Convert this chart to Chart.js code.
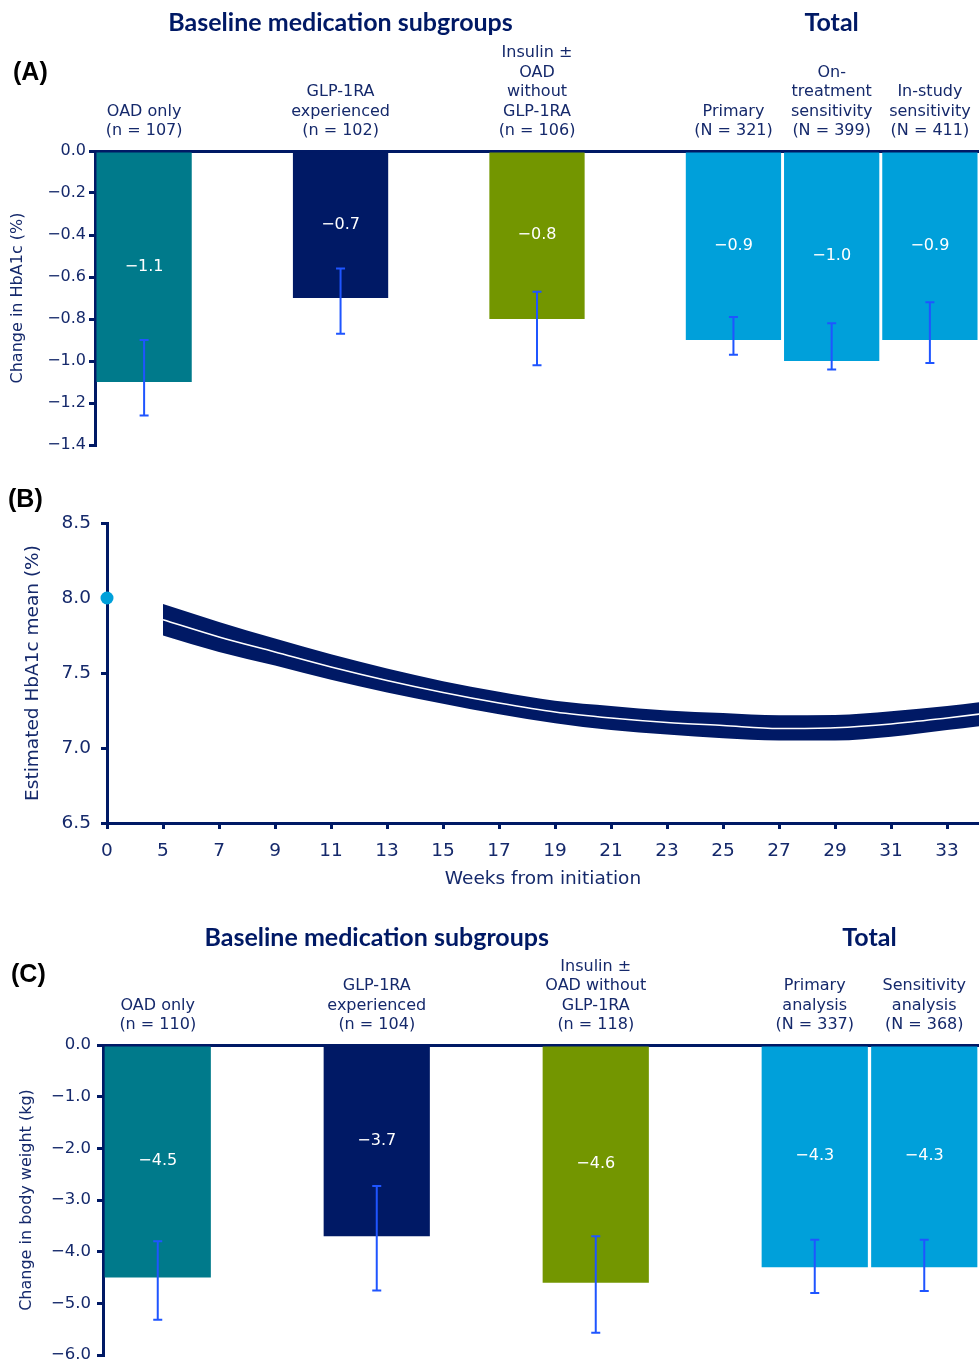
<!DOCTYPE html>
<html>
<head>
<meta charset="utf-8">
<script src="https://cdn.jsdelivr.net/npm/chart.js@4.4.0/dist/chart.umd.min.js"></script>
<style>
  body { margin: 0; background: #fff; width: 979px; height: 1363px; overflow: hidden; position: relative; }
  .panel { position: absolute; left: 0; width: 979px; }
</style>
</head>
<body>
<div class="panel" style="top:0;height:462px"><canvas id="chartA"></canvas></div>
<div class="panel" style="top:478px;height:422px"><canvas id="chartB"></canvas></div>
<div class="panel" style="top:905px;height:470px"><canvas id="chartC"></canvas></div>
<script>
// (A) change in HbA1c (%) by baseline medication subgroup and in the total population
const hba1cSubgroupLabels = [
  ['OAD only', '(n = 107)'],
  ['GLP-1RA', 'experienced', '(n = 102)'],
  ['Insulin ±', 'OAD', 'without', 'GLP-1RA', '(n = 106)'],
];
const hba1cTotalLabels = [
  ['Primary', '(N = 321)'],
  ['On-', 'treatment', 'sensitivity', '(N = 399)'],
  ['In-study', 'sensitivity', '(N = 411)'],
];
const hba1cChange = [-1.1, -0.7, -0.8, -0.9, -1.0, -0.9];
const hba1cLower = [-1.26, -0.87, -1.02, -0.97, -1.04, -1.01];
const hba1cUpper = [-0.90, -0.56, -0.67, -0.79, -0.82, -0.72];
const hba1cTicks = [0, -0.2, -0.4, -0.6, -0.8, -1.0, -1.2, -1.4];

// (B) estimated HbA1c mean (%) over weeks from initiation
const baselineWeek = 0;
const baselineHbA1c = 8.0;
const curveWeeks = [5, 7, 9, 11, 13, 15, 17, 19, 21, 23, 25, 27, 29, 31, 33, 35];
const curveMean  = [7.855, 7.74, 7.64, 7.54, 7.45, 7.37, 7.30, 7.24, 7.20, 7.17, 7.15, 7.13, 7.135, 7.16, 7.20, 7.245];
const curveUpper = [7.96, 7.84, 7.73, 7.625, 7.53, 7.445, 7.375, 7.315, 7.28, 7.25, 7.233, 7.218, 7.22, 7.245, 7.28, 7.325];
const curveLower = [7.75, 7.64, 7.55, 7.455, 7.37, 7.295, 7.225, 7.165, 7.12, 7.09, 7.065, 7.05, 7.05, 7.075, 7.12, 7.165];
const weekTicks = [0, 5, 7, 9, 11, 13, 15, 17, 19, 21, 23, 25, 27, 29, 31, 33];
const hba1cMeanTicks = [6.5, 7.0, 7.5, 8.0, 8.5];

// (C) change in body weight (kg)
const weightSubgroupLabels = [
  ['OAD only', '(n = 110)'],
  ['GLP-1RA', 'experienced', '(n = 104)'],
  ['Insulin ±', 'OAD without', 'GLP-1RA', '(n = 118)'],
];
const weightTotalLabels = [
  ['Primary', 'analysis', '(N = 337)'],
  ['Sensitivity', 'analysis', '(N = 368)'],
];
const weightChange = [-4.5, -3.7, -4.6, -4.3, -4.3];
const weightLower = [-5.32, -4.75, -5.57, -4.80, -4.76];
const weightUpper = [-3.80, -2.73, -3.70, -3.77, -3.77];
const weightTicks = [0, -1, -2, -3, -4, -5, -6];

const FONT = '"DejaVu Sans", Verdana, sans-serif';
const TITLE_FONT = 'Lato, "Open Sans", sans-serif';
const NAVY = '#001965';
const TEXT = '#15296b';
const ERR_BLUE = '#1f55ff';
const SUBGROUP_COLORS = ['#007a8b', '#001965', '#739600'];
const TOTAL_COLOR = '#00a0da';

function minusFmt(v) {
  return (v < 0 ? '\u2212' : '') + Math.abs(v).toFixed(1);
}

// subgroups sit one empty slot apart, a further empty slot before the adjacent total bars
function buildSlots(subLabels, totalLabels, values, lower, upper) {
  const slots = [];
  subLabels.forEach((label, i) => {
    if (i > 0) slots.push(null);
    slots.push({ label, value: values[i], lo: lower[i], hi: upper[i], color: SUBGROUP_COLORS[i], group: 0 });
  });
  slots.push(null);
  totalLabels.forEach((label, j) => {
    const i = subLabels.length + j;
    slots.push({ label, value: values[i], lo: lower[i], hi: upper[i], color: TOTAL_COLOR, group: 1 });
  });
  return slots;
}

function panelLetter(letter, x, y) {
  return {
    id: 'panelLetter',
    afterDraw(chart) {
      const ctx = chart.ctx;
      ctx.save();
      ctx.fillStyle = '#000';
      ctx.font = 'bold 25px "Liberation Sans", Arial, sans-serif';
      ctx.textAlign = 'left';
      ctx.textBaseline = 'middle';
      ctx.fillText(letter, x, y);
      ctx.restore();
    },
  };
}

function barAnnotations(slots, groupTitles, titleY) {
  return {
    id: 'barAnnotations',
    afterDatasetsDraw(chart) {
      const { ctx, scales: { x, y } } = chart;
      ctx.save();
      slots.forEach((s, i) => {
        if (!s) return;
        const px = x.getPixelForValue(i);
        const yLo = y.getPixelForValue(s.lo);
        const yHi = y.getPixelForValue(s.hi);
        ctx.strokeStyle = ERR_BLUE;
        ctx.lineWidth = 2;
        ctx.beginPath();
        ctx.moveTo(px, yHi); ctx.lineTo(px, yLo);
        ctx.moveTo(px - 4.5, yHi); ctx.lineTo(px + 4.5, yHi);
        ctx.moveTo(px - 4.5, yLo); ctx.lineTo(px + 4.5, yLo);
        ctx.stroke();

        ctx.fillStyle = '#fff';
        ctx.font = `16px ${FONT}`;
        ctx.textAlign = 'center';
        ctx.textBaseline = 'middle';
        ctx.fillText(minusFmt(s.value), px, y.getPixelForValue(s.value / 2));
      });

      ctx.fillStyle = NAVY;
      ctx.font = `bold 25px ${TITLE_FONT}`;
      ctx.textAlign = 'center';
      ctx.textBaseline = 'middle';
      groupTitles.forEach((title, g) => {
        const idx = slots.map((s, i) => (s && s.group === g ? i : -1)).filter((i) => i >= 0);
        const cx = (x.getPixelForValue(idx[0]) + x.getPixelForValue(idx[idx.length - 1])) / 2;
        ctx.fillText(title, cx, titleY);
      });
      ctx.restore();
    },
  };
}

function barChart(canvasId, cfg) {
  const slots = buildSlots(cfg.subLabels, cfg.totalLabels, cfg.values, cfg.lower, cfg.upper);
  return new Chart(document.getElementById(canvasId), {
    type: 'bar',
    data: {
      labels: slots.map((s) => (s ? s.label : '')),
      datasets: [{
        data: slots.map((s) => (s ? s.value : null)),
        backgroundColor: slots.map((s) => (s ? s.color : 'transparent')),
        borderWidth: 0,
        barPercentage: 0.97,
        categoryPercentage: 1,
      }],
    },
    options: {
      responsive: true,
      maintainAspectRatio: false,
      animation: false,
      layout: { autoPadding: false, padding: { top: 0, right: 0, bottom: cfg.padBottom, left: 0 } },
      plugins: { legend: { display: false }, tooltip: { enabled: false } },
      scales: {
        x: {
          position: 'top',
          offset: true,
          grid: { display: false },
          border: { color: NAVY, width: 3 },
          ticks: {
            color: TEXT,
            font: { family: FONT, size: 16, lineHeight: 1.22 },
            padding: cfg.labelPad,
            maxRotation: 0,
            autoSkip: false,
          },
          // labels never reach past the plot, so no side padding for them
          afterFit: (scale) => { scale.height = cfg.axisTop; scale.paddingLeft = 0; scale.paddingRight = 0; },
        },
        y: {
          min: Math.min(...cfg.ticks),
          max: 0,
          afterBuildTicks: (scale) => { scale.ticks = cfg.ticks.map((v) => ({ value: v })); },
          ticks: { color: TEXT, font: { family: FONT, size: cfg.tickSize }, padding: cfg.tickPad, callback: (v) => minusFmt(v) },
          grid: { drawOnChartArea: false, color: NAVY, lineWidth: 3, tickLength: 6 },
          border: { color: NAVY, width: 3 },
          title: { display: true, text: cfg.yTitle, color: TEXT, font: { family: FONT, size: 16 }, padding: { top: cfg.titlePad, bottom: 0 } },
          afterFit: (scale) => { scale.width = cfg.axisLeft; },
        },
      },
    },
    plugins: [
      barAnnotations(slots, ['Baseline medication subgroups', 'Total'], cfg.groupTitleY),
      panelLetter(cfg.letter, cfg.letterX, cfg.letterY),
    ],
  });
}

barChart('chartA', {
  subLabels: hba1cSubgroupLabels, totalLabels: hba1cTotalLabels,
  values: hba1cChange, lower: hba1cLower, upper: hba1cUpper, ticks: hba1cTicks,
  yTitle: 'Change in HbA1c (%)',
  axisTop: 151, axisLeft: 95, padBottom: 17, labelPad: 2, tickSize: 16, tickPad: 3, titlePad: 8,
  groupTitleY: 23, letter: '(A)', letterX: 13, letterY: 73,
});

barChart('chartC', {
  subLabels: weightSubgroupLabels, totalLabels: weightTotalLabels,
  values: weightChange, lower: weightLower, upper: weightUpper, ticks: weightTicks,
  yTitle: 'Change in body weight (kg)',
  axisTop: 140, axisLeft: 103, padBottom: 20, labelPad: 2, tickSize: 16.5, tickPad: 6, titlePad: 17,
  groupTitleY: 33, letter: '(C)', letterX: 11, letterY: 70,
});

// weeks 1-4 are not shown: the axis jumps from week 0 straight to week 5, one 2-week step apart
const AXIS_BREAK_POS = 3;
const weekPos = (w) => (w < 5 ? AXIS_BREAK_POS : w);

new Chart(document.getElementById('chartB'), {
  type: 'line',
  data: {
    datasets: [
      {
        data: curveWeeks.map((w, i) => ({ x: weekPos(w), y: curveUpper[i] })),
        borderWidth: 0, pointRadius: 0, fill: '+1', backgroundColor: NAVY,
        tension: 0.4, cubicInterpolationMode: 'monotone', order: 3,
      },
      {
        data: curveWeeks.map((w, i) => ({ x: weekPos(w), y: curveLower[i] })),
        borderWidth: 0, pointRadius: 0, fill: false,
        tension: 0.4, cubicInterpolationMode: 'monotone', order: 2,
      },
      {
        data: curveWeeks.map((w, i) => ({ x: weekPos(w), y: curveMean[i] })),
        borderColor: '#ffffff', borderWidth: 1.6, pointRadius: 0, fill: false,
        tension: 0.4, cubicInterpolationMode: 'monotone', order: 1,
      },
      {
        data: [{ x: weekPos(baselineWeek), y: baselineHbA1c }],
        showLine: false, pointRadius: 6.5, pointBackgroundColor: TOTAL_COLOR, pointBorderWidth: 0, clip: false, order: 0,
      },
    ],
  },
  options: {
    responsive: true,
    maintainAspectRatio: false,
    animation: false,
    layout: { autoPadding: false, padding: { top: 45, right: 0, bottom: 0, left: 0 } },
    plugins: { legend: { display: false }, tooltip: { enabled: false } },
    scales: {
      x: {
        type: 'linear',
        min: AXIS_BREAK_POS,
        max: 34.14,
        afterBuildTicks: (scale) => { scale.ticks = weekTicks.map((w) => ({ value: weekPos(w) })); },
        ticks: { color: TEXT, font: { family: FONT, size: 18.5 }, padding: 11, callback: (v) => (v === AXIS_BREAK_POS ? '0' : String(v)) },
        grid: { drawOnChartArea: false, color: NAVY, lineWidth: 3, tickLength: 6 },
        border: { color: NAVY, width: 3 },
        title: { display: true, text: 'Weeks from initiation', color: TEXT, font: { family: FONT, size: 18.5 }, padding: { top: 0, bottom: 10 } },
        afterFit: (scale) => { scale.height = 77; scale.paddingLeft = 0; scale.paddingRight = 0; },
      },
      y: {
        min: 6.5,
        max: 8.5,
        afterBuildTicks: (scale) => { scale.ticks = hba1cMeanTicks.map((v) => ({ value: v })); },
        ticks: { color: TEXT, font: { family: FONT, size: 18.5 }, padding: 10, callback: (v) => v.toFixed(1) },
        grid: { drawOnChartArea: false, color: NAVY, lineWidth: 3, tickLength: 6 },
        border: { color: NAVY, width: 3 },
        title: { display: true, text: 'Estimated HbA1c mean (%)', color: TEXT, font: { family: FONT, size: 18.5 }, padding: { top: 22, bottom: 0 } },
        afterFit: (scale) => { scale.width = 107; },
      },
    },
  },
  plugins: [panelLetter('(B)', 8, 22)],
});
</script>
</body>
</html>
